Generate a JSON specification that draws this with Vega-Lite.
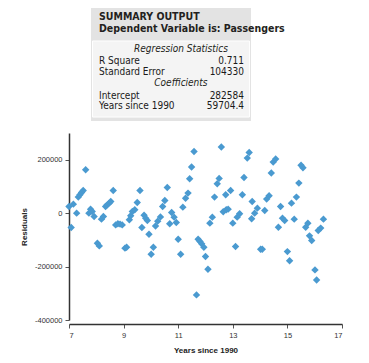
{
  "$schema": "https://vega.github.io/schema/vega-lite/v6.json",
  "padding": {"left": 20, "top": 8, "right": 5, "bottom": 5},
  "background": "white",
  "bounds": "flush",
  "spacing": 12,
  "config": {"view": {"stroke": null}, "font": "Liberation Sans"},
  "vconcat": [
    {
      "width": 273,
      "height": 113,
      "layer": [
        {
          "data": {"values": [{}]},
          "mark": {"type": "rect", "fill": "#e3e3e3"},
          "encoding": {
            "x": {"datum": 8.06, "type": "quantitative", "scale": {"domain": [0, 100], "nice": false, "zero": false}, "axis": null},
            "x2": {"datum": 66.67},
            "y": {"datum": 0, "type": "quantitative", "scale": {"domain": [0, 10], "reverse": true, "nice": false, "zero": false}, "axis": null},
            "y2": {"datum": 10}
          }
        },
        {
          "data": {"values": [{}]},
          "mark": {"type": "rect", "fill": "#f4f4f4", "stroke": "#ffffff", "strokeWidth": 1},
          "encoding": {
            "x": {"datum": 8.6, "type": "quantitative"},
            "x2": {"datum": 66.1},
            "y": {"datum": 2.92, "type": "quantitative"},
            "y2": {"datum": 9.65}
          }
        },
        {
          "data": {"name": "table"},
          "transform": [{"filter": "datum.kind == 'title'"}],
          "mark": {"type": "text", "align": "left", "baseline": "middle", "font": "Liberation Sans Narrow, DejaVu Sans Condensed, sans-serif", "fontWeight": "bold", "fontSize": 10.5, "color": "#231f20"},
          "encoding": {
            "x": {"datum": 10.99, "type": "quantitative"},
            "y": {"field": "line", "type": "quantitative"},
            "text": {"field": "label"}
          }
        },
        {
          "data": {"name": "table"},
          "transform": [{"filter": "datum.kind == 'header'"}],
          "mark": {"type": "text", "align": "center", "baseline": "middle", "font": "Liberation Sans Narrow, DejaVu Sans Condensed, sans-serif", "fontStyle": "italic", "fontSize": 10, "color": "#231f20"},
          "encoding": {
            "x": {"datum": 41, "type": "quantitative"},
            "y": {"field": "line", "type": "quantitative"},
            "text": {"field": "label"}
          }
        },
        {
          "data": {"name": "table"},
          "transform": [{"filter": "datum.kind == 'stat'"}],
          "mark": {"type": "text", "align": "left", "baseline": "middle", "font": "Liberation Sans Narrow, DejaVu Sans Condensed, sans-serif", "fontSize": 10, "color": "#1a1a1a"},
          "encoding": {
            "x": {"datum": 10.99, "type": "quantitative"},
            "y": {"field": "line", "type": "quantitative"},
            "text": {"field": "label"}
          }
        },
        {
          "data": {"name": "table"},
          "transform": [{"filter": "datum.kind == 'stat'"}],
          "mark": {"type": "text", "align": "right", "baseline": "middle", "font": "Liberation Sans Narrow, DejaVu Sans Condensed, sans-serif", "fontSize": 10, "color": "#1a1a1a"},
          "encoding": {
            "x": {"datum": 64.1, "type": "quantitative"},
            "y": {"field": "line", "type": "quantitative"},
            "text": {"field": "value"}
          }
        }
      ]
    },
    {
      "width": 273,
      "height": 187,
      "data": {"name": "residuals"},
      "mark": {"type": "point", "shape": "diamond", "filled": true, "size": 55, "color": "#4a9ad0", "opacity": 1},
      "encoding": {
        "x": {
          "field": "years", "type": "quantitative",
          "scale": {"domain": [7, 17], "nice": false, "zero": false},
          "axis": {"values": [7, 9, 11, 13, 15, 17], "title": "Years since 1990", "offset": 4, "grid": false,
            "domainColor": "#333333", "domainWidth": 1.5, "tickColor": "#555555", "tickSize": 4, "tickWidth": 1,
            "labelFontSize": 7.5, "labelColor": "#333333", "labelPadding": 3,
            "titleFontSize": 8, "titleFontWeight": "bold", "titleColor": "#222222", "titlePadding": 8}
        },
        "y": {
          "field": "residual", "type": "quantitative",
          "scale": {"domain": [-400000, 300000], "nice": false, "zero": false},
          "axis": {"values": [-400000, -200000, 0, 200000], "labelExpr": "toString(datum.value)", "title": "Residuals", "grid": false,
            "domainColor": "#333333", "domainWidth": 1.5, "tickColor": "#555555", "tickSize": 4, "tickWidth": 1,
            "labelFontSize": 7.5, "labelColor": "#333333", "labelPadding": 3,
            "titleFontSize": 8, "titleFontWeight": "bold", "titleColor": "#222222", "titlePadding": 6}
        }
      }
    }
  ],
  "datasets": {
    "table": [
      {"kind": "title", "line": 0.8, "label": "SUMMARY OUTPUT", "value": ""},
      {"kind": "title", "line": 1.9, "label": "Dependent Variable is: Passengers", "value": ""},
      {"kind": "header", "line": 3.65, "label": "Regression Statistics", "value": ""},
      {"kind": "stat", "line": 4.7, "label": "R Square", "value": "0.711"},
      {"kind": "stat", "line": 5.65, "label": "Standard Error", "value": "104330"},
      {"kind": "header", "line": 6.65, "label": "Coefficients", "value": ""},
      {"kind": "stat", "line": 7.8, "label": "Intercept", "value": "282584"},
      {"kind": "stat", "line": 8.65, "label": "Years since 1990", "value": "59704.4"}
    ],
    "residuals": [
      {"years": 7.00, "residual": 24750},
      {"years": 7.16, "residual": 33750},
      {"years": 7.08, "residual": -54000},
      {"years": 7.28, "residual": 0},
      {"years": 7.34, "residual": 60000},
      {"years": 7.40, "residual": 68600},
      {"years": 7.46, "residual": 77250},
      {"years": 7.52, "residual": 84750},
      {"years": 7.61, "residual": 162400},
      {"years": 7.73, "residual": 0},
      {"years": 7.79, "residual": 15000},
      {"years": 7.85, "residual": 6000},
      {"years": 7.92, "residual": -12500},
      {"years": 8.04, "residual": -112500},
      {"years": 8.11, "residual": -122600},
      {"years": 8.19, "residual": -22500},
      {"years": 8.26, "residual": -12500},
      {"years": 8.34, "residual": 24750},
      {"years": 8.40, "residual": 31000},
      {"years": 8.47, "residual": 37500},
      {"years": 8.53, "residual": 43500},
      {"years": 8.62, "residual": 84750},
      {"years": 8.71, "residual": -44000},
      {"years": 8.79, "residual": -40000},
      {"years": 8.87, "residual": -41000},
      {"years": 8.95, "residual": -44000},
      {"years": 9.05, "residual": -131000},
      {"years": 9.11, "residual": -127500},
      {"years": 9.21, "residual": -25000},
      {"years": 9.26, "residual": -10000},
      {"years": 9.32, "residual": 6000},
      {"years": 9.41, "residual": 12500},
      {"years": 9.50, "residual": 40000},
      {"years": 9.60, "residual": 84750},
      {"years": 9.67, "residual": -54000},
      {"years": 9.75, "residual": -7500},
      {"years": 9.81, "residual": -19000},
      {"years": 9.87, "residual": -27500},
      {"years": 9.93, "residual": -79000},
      {"years": 10.01, "residual": -154000},
      {"years": 10.09, "residual": -127500},
      {"years": 10.17, "residual": -48000},
      {"years": 10.25, "residual": -30000},
      {"years": 10.35, "residual": -14000},
      {"years": 10.43, "residual": 24750},
      {"years": 10.51, "residual": 47250},
      {"years": 10.60, "residual": 96000},
      {"years": 10.69, "residual": -40000},
      {"years": 10.76, "residual": 2500},
      {"years": 10.85, "residual": -15000},
      {"years": 10.93, "residual": -35000},
      {"years": 11.00, "residual": -97500},
      {"years": 11.09, "residual": -154000},
      {"years": 11.17, "residual": 22500},
      {"years": 11.27, "residual": 56000},
      {"years": 11.36, "residual": 75000},
      {"years": 11.42, "residual": 128600},
      {"years": 11.49, "residual": 172500},
      {"years": 11.58, "residual": 231000},
      {"years": 11.67, "residual": -306000},
      {"years": 11.73, "residual": -97500},
      {"years": 11.80, "residual": -106000},
      {"years": 11.86, "residual": -115000},
      {"years": 11.94, "residual": -127500},
      {"years": 12.00, "residual": -162500},
      {"years": 12.09, "residual": -210000},
      {"years": 12.16, "residual": -37500},
      {"years": 12.25, "residual": -15000},
      {"years": 12.33, "residual": 60000},
      {"years": 12.43, "residual": 110000},
      {"years": 12.50, "residual": 130000},
      {"years": 12.58, "residual": 247500},
      {"years": 12.65, "residual": 5000},
      {"years": 12.74, "residual": 68600},
      {"years": 12.76, "residual": 12500},
      {"years": 12.83, "residual": 15000},
      {"years": 12.92, "residual": 84750},
      {"years": 13.00, "residual": -37500},
      {"years": 13.10, "residual": -125000},
      {"years": 13.16, "residual": -15000},
      {"years": 13.25, "residual": -2500},
      {"years": 13.35, "residual": 68600},
      {"years": 13.41, "residual": 133500},
      {"years": 13.53, "residual": 206000},
      {"years": 13.60, "residual": 227000},
      {"years": 13.69, "residual": -21250},
      {"years": 13.71, "residual": 43500},
      {"years": 13.80, "residual": 0},
      {"years": 13.90, "residual": 18750},
      {"years": 14.02, "residual": -135000},
      {"years": 14.08, "residual": -135000},
      {"years": 14.17, "residual": 10000},
      {"years": 14.24, "residual": 52500},
      {"years": 14.33, "residual": 65000},
      {"years": 14.41, "residual": 150000},
      {"years": 14.48, "residual": 191000},
      {"years": 14.57, "residual": 202500},
      {"years": 14.67, "residual": -52500},
      {"years": 14.75, "residual": 24750},
      {"years": 14.82, "residual": -18750},
      {"years": 14.90, "residual": -27500},
      {"years": 15.00, "residual": -144000},
      {"years": 15.08, "residual": -178000},
      {"years": 15.15, "residual": 37500},
      {"years": 15.25, "residual": -22500},
      {"years": 15.33, "residual": 60000},
      {"years": 15.42, "residual": 112500},
      {"years": 15.50, "residual": 179000},
      {"years": 15.57, "residual": 170000},
      {"years": 15.67, "residual": -52500},
      {"years": 15.75, "residual": -37500},
      {"years": 15.81, "residual": -85000},
      {"years": 15.89, "residual": -102500},
      {"years": 16.01, "residual": -212500},
      {"years": 16.07, "residual": -250000},
      {"years": 16.13, "residual": -65000},
      {"years": 16.22, "residual": -56000},
      {"years": 16.32, "residual": -22500}
    ]
  }
}
